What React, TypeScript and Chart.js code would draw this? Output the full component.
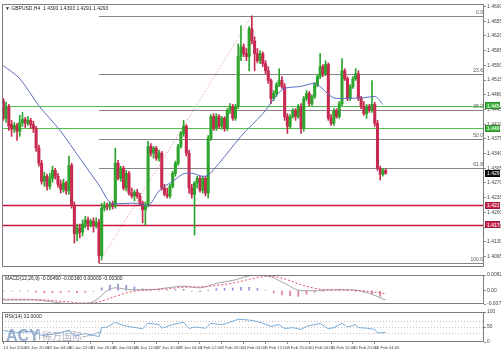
import React, { useEffect, useRef } from "react";
import { Chart, registerables } from "chart.js";
Chart.register(...registerables);

// ---------- DATA (GBPUSD, H4) ----------
const opens = [
  1.4466, 1.4424, 1.4452, 1.4409, 1.4398, 1.4407, 1.4393, 1.4414, 1.4421, 1.4412,
  1.4419, 1.4409, 1.4400, 1.4353, 1.4317, 1.4274, 1.4286, 1.4262, 1.4281, 1.4300,
  1.4286, 1.4267, 1.4255, 1.4270, 1.4251, 1.4312, 1.4217, 1.4149, 1.4163, 1.4153,
  1.4172, 1.4182, 1.4172, 1.4179, 1.4170, 1.4177, 1.4097, 1.4210, 1.4217, 1.4213,
  1.4220, 1.4215, 1.4317, 1.4281, 1.4305, 1.4258, 1.4293, 1.4246, 1.4239, 1.4248,
  1.4239, 1.4222, 1.4206, 1.4217, 1.4357, 1.4341, 1.4353, 1.4329, 1.4341, 1.4258,
  1.4243, 1.4239, 1.4262, 1.4293, 1.4317, 1.4357, 1.4388, 1.4405, 1.4341, 1.4258,
  1.4243, 1.4270, 1.4281, 1.4253, 1.4281, 1.4246, 1.4376, 1.4428, 1.4400, 1.4428,
  1.4405, 1.4424, 1.4400, 1.4443, 1.4452, 1.4424, 1.4452, 1.4571, 1.4594, 1.4578,
  1.4571, 1.4637, 1.4608, 1.4578, 1.4561, 1.4578, 1.4554, 1.4537, 1.4514, 1.4471,
  1.4483, 1.4504, 1.4514, 1.4499, 1.4428, 1.4405, 1.4428, 1.4443, 1.4428, 1.4452,
  1.4400, 1.4471, 1.4483, 1.4459, 1.4476, 1.4504, 1.4523, 1.4547, 1.4530, 1.4552,
  1.4424, 1.4412, 1.4443, 1.4428, 1.4459, 1.4537, 1.4518, 1.4471, 1.4499, 1.4518,
  1.4530, 1.4471, 1.4452, 1.4435, 1.4452, 1.4443, 1.4457, 1.4412, 1.4305, 1.4291,
  1.4300,
];
const highs = [
  1.4471, 1.4462, 1.4457, 1.4419, 1.4414, 1.4412, 1.4431, 1.4438, 1.4426, 1.4428,
  1.4424, 1.4417, 1.4405, 1.4360, 1.4324, 1.4296, 1.4291, 1.4293, 1.4310, 1.4305,
  1.4293, 1.4277, 1.4279, 1.4274, 1.4334, 1.4317, 1.4225, 1.4172, 1.4172, 1.4182,
  1.4191, 1.4189, 1.4184, 1.4187, 1.4187, 1.4184, 1.4222, 1.4225, 1.4222, 1.4225,
  1.4227, 1.4353, 1.4324, 1.4310, 1.4310, 1.4300, 1.4298, 1.4258, 1.4253, 1.4255,
  1.4246, 1.4227, 1.4225, 1.4369, 1.4364, 1.4357, 1.4357, 1.4348, 1.4345, 1.4267,
  1.4258, 1.4267, 1.4298, 1.4322, 1.4362, 1.4393, 1.4419, 1.4409, 1.4348, 1.4267,
  1.4274, 1.4286, 1.4286, 1.4286, 1.4286, 1.4383, 1.4433, 1.4435, 1.4435, 1.4433,
  1.4428, 1.4428, 1.4447, 1.4459, 1.4457, 1.4457, 1.4601, 1.4644, 1.4601, 1.4590,
  1.4642, 1.4668, 1.4618, 1.4590, 1.4585, 1.4582, 1.4561, 1.4547, 1.4518, 1.4490,
  1.4509, 1.4542, 1.4523, 1.4507, 1.4435, 1.4433, 1.4447, 1.4447, 1.4457, 1.4459,
  1.4476, 1.4490, 1.4488, 1.4480, 1.4509, 1.4528, 1.4578, 1.4552, 1.4561, 1.4556,
  1.4433, 1.4447, 1.4447, 1.4464, 1.4566, 1.4542, 1.4523, 1.4504, 1.4523, 1.4542,
  1.4537, 1.4476, 1.4464, 1.4457, 1.4457, 1.4514, 1.4462, 1.4419, 1.4310, 1.4305,
  1.4303,
];
const lows = [
  1.4419, 1.4414, 1.4395, 1.4381, 1.4390, 1.4371, 1.4381, 1.4405, 1.4402, 1.4407,
  1.4400, 1.4390, 1.4345, 1.4310, 1.4267, 1.4262, 1.4253, 1.4255, 1.4272, 1.4279,
  1.4260, 1.4246, 1.4248, 1.4243, 1.4243, 1.4210, 1.4127, 1.4132, 1.4139, 1.4144,
  1.4163, 1.4158, 1.4165, 1.4153, 1.4163, 1.4080, 1.4087, 1.4203, 1.4206, 1.4206,
  1.4208, 1.4210, 1.4277, 1.4274, 1.4253, 1.4251, 1.4241, 1.4234, 1.4227, 1.4234,
  1.4217, 1.4175, 1.4170, 1.4213, 1.4334, 1.4329, 1.4324, 1.4322, 1.4253, 1.4239,
  1.4234, 1.4234, 1.4258, 1.4286, 1.4312, 1.4353, 1.4381, 1.4334, 1.4246, 1.4234,
  1.4146, 1.4258, 1.4248, 1.4246, 1.4239, 1.4234, 1.4371, 1.4395, 1.4395, 1.4400,
  1.4398, 1.4393, 1.4395, 1.4435, 1.4419, 1.4419, 1.4447, 1.4561, 1.4571, 1.4561,
  1.4537, 1.4601, 1.4537, 1.4556, 1.4554, 1.4547, 1.4530, 1.4507, 1.4459, 1.4466,
  1.4476, 1.4499, 1.4495, 1.4419, 1.4388, 1.4400, 1.4424, 1.4419, 1.4424, 1.4388,
  1.4393, 1.4466, 1.4454, 1.4454, 1.4471, 1.4499, 1.4518, 1.4523, 1.4526, 1.4419,
  1.4407, 1.4407, 1.4424, 1.4424, 1.4454, 1.4514, 1.4466, 1.4466, 1.4495, 1.4514,
  1.4466, 1.4447, 1.4431, 1.4424, 1.4438, 1.4438, 1.4405, 1.4300, 1.4277, 1.4286,
  1.4291,
];
const closes = [
  1.4424, 1.4452, 1.4405, 1.4398, 1.4407, 1.4393, 1.4414, 1.4421, 1.4412, 1.4419,
  1.4409, 1.4400, 1.4353, 1.4317, 1.4274, 1.4286, 1.4262, 1.4281, 1.4300, 1.4286,
  1.4267, 1.4255, 1.4270, 1.4251, 1.4312, 1.4217, 1.4149, 1.4163, 1.4153, 1.4172,
  1.4182, 1.4172, 1.4179, 1.4170, 1.4177, 1.4097, 1.4210, 1.4217, 1.4213, 1.4220,
  1.4215, 1.4317, 1.4281, 1.4305, 1.4258, 1.4293, 1.4246, 1.4239, 1.4248, 1.4239,
  1.4222, 1.4206, 1.4217, 1.4357, 1.4341, 1.4353, 1.4329, 1.4341, 1.4258, 1.4243,
  1.4239, 1.4262, 1.4293, 1.4317, 1.4357, 1.4388, 1.4405, 1.4341, 1.4258, 1.4243,
  1.4270, 1.4281, 1.4253, 1.4281, 1.4246, 1.4376, 1.4428, 1.4400, 1.4428, 1.4405,
  1.4424, 1.4400, 1.4443, 1.4452, 1.4424, 1.4452, 1.4571, 1.4594, 1.4578, 1.4571,
  1.4637, 1.4608, 1.4578, 1.4561, 1.4578, 1.4554, 1.4537, 1.4514, 1.4471, 1.4483,
  1.4504, 1.4514, 1.4499, 1.4428, 1.4405, 1.4428, 1.4443, 1.4428, 1.4452, 1.4400,
  1.4471, 1.4483, 1.4459, 1.4476, 1.4504, 1.4523, 1.4547, 1.4530, 1.4552, 1.4424,
  1.4412, 1.4443, 1.4428, 1.4459, 1.4537, 1.4518, 1.4471, 1.4499, 1.4518, 1.4530,
  1.4471, 1.4452, 1.4435, 1.4452, 1.4443, 1.4457, 1.4412, 1.4305, 1.4291, 1.4300,
  1.4293,
];

// moving average
const maIndex = [0, 6, 13, 21, 28, 35, 40, 47, 53, 57, 62, 67, 69, 73, 75, 79, 87, 95, 103, 108, 114, 115, 122, 132, 136, 139];
const maValues = [1.4549, 1.4518, 1.4454, 1.4393, 1.4329, 1.4265, 1.422, 1.4222, 1.4217, 1.4251, 1.4274, 1.4293, 1.4293, 1.4286, 1.4289, 1.4317, 1.4381, 1.4435, 1.4495, 1.4499, 1.4507, 1.4504, 1.4471, 1.4473, 1.4476, 1.4457];

// price axis
const priceTicks = [1.469, 1.4655, 1.462, 1.4585, 1.455, 1.4515, 1.448, 1.4445, 1.441, 1.4375, 1.434, 1.4305, 1.427, 1.4235, 1.42, 1.4165, 1.413, 1.4095];
const priceMin = 1.407;
const priceMax = 1.4696;

// horizontal lines
const resistanceLevels = [1.4454, 1.44];
const supportLevels = [1.4217, 1.417];
const currentPrice = 1.4293;

// fibonacci
const fibLowIndex = 35;
const fibHighIndex = 91;
const fibLow = 1.408;
const fibHigh = 1.4668;
const fibLevels = [0, 23.6, 38.2, 50, 61.8, 100];
const fibLabels = ["0.0", "23.6", "38.2", "50.0", "61.8", "100.0"];

// x axis
const xTickIndex = [0, 8, 16, 24, 32, 40, 48, 56, 64, 72, 80, 88, 96, 104, 112, 120, 128, 136];
const xTickLabels = [
  "14 Jan 2016", "15 Jan 20:00", "19 Jan 04:00", "20 Jan 12:00", "21 Jan 20:00", "25 Jan 04:00",
  "26 Jan 12:00", "27 Jan 20:00", "29 Jan 04:00", "1 Feb 12:00", "2 Feb 20:00", "4 Feb 04:00",
  "5 Feb 12:00", "8 Feb 20:00", "10 Feb 04:00", "11 Feb 12:00", "12 Feb 20:00", "16 Feb 04:00",
];
const xMin = -0.5;
const xMax = 176;

// MACD
const macdIndex = [0, 11, 23, 29, 34, 38, 41, 47, 54, 60, 66, 72, 78, 84, 90, 94, 98, 103, 109, 115, 121, 127, 133, 140];
const macdMain = [-0.0049, -0.0049, -0.0068, -0.0073, -0.0049, 0, 0.0015, 0.0005, 0.0005, 0.0015, 0.0024, 0.0015, 0.0039, 0.0054, 0.0078, 0.0083, 0.0073, 0.0039, 0, 0, 0.0005, 0.0005, -0.001, -0.0049];
const macdSignal = [-0.0045, -0.0046, -0.0058, -0.0065, -0.0062, -0.0045, -0.003, -0.0005, 0.0005, 0.001, 0.0018, 0.002, 0.0028, 0.004, 0.006, 0.0072, 0.0076, 0.0062, 0.0032, 0.001, 0.0004, 0.0003, -0.0003, -0.0016];
const histIndex = [0, 3, 6, 9, 12, 15, 18, 21, 24, 27, 30, 33, 36, 39, 42, 45, 48, 51, 54, 57, 60, 63, 66, 69, 72, 75, 78, 81, 84, 87, 90, 93, 96, 99, 102, 105, 108, 111, 114, 117, 120, 123, 126, 129, 132, 135, 138];
const histValues = [-0.0004, -0.0003, -0.0002, -0.0003, -0.0008, -0.0012, -0.001, -0.0009, -0.0006, -0.001, -0.0008, -0.0003, 0.0015, 0.003, 0.0035, 0.0028, 0.002, 0.001, 0.0006, 0.0004, 0.0004, 0.0006, 0.0008, -0.0003, -0.0005, 0.0002, 0.0011, 0.0012, 0.0014, 0.0018, 0.0018, 0.0012, 0.0002, -0.0012, -0.0022, -0.0028, -0.003, -0.0018, -0.0008, -0.0003, 0.0001, 0.0002, 0.0002, -0.0003, -0.0008, -0.0018, -0.003];
const macdTicks = [-0.00702, 0, 0.00828];
const macdTickLabels = ["-0.00702", "0.00", "0.00828"];

// RSI
const rsiIndex = [0, 5, 11, 14, 20, 24, 26, 30, 35, 36, 38, 41, 44, 47, 51, 53, 57, 58, 62, 66, 68, 70, 74, 76, 80, 82, 86, 91, 94, 98, 101, 103, 106, 109, 111, 116, 119, 121, 124, 126, 129, 130, 133, 136, 137, 140];
const rsiValues = [38, 32, 35, 22, 28, 40, 20, 28, 18, 48, 50, 66, 55, 50, 44, 63, 58, 46, 58, 66, 45, 50, 46, 62, 58, 63, 76, 72, 66, 52, 58, 45, 48, 42, 52, 62, 44, 48, 62, 50, 58, 48, 46, 42, 30, 32];
const rsiTicks = [0, 30, 50, 70, 100];
const rsiLevels = [30, 50, 70];

// ---------- STYLE ----------
const UP = "#2da52d";
const DOWN = "#c72a50";
const FONT = "Liberation Sans, DejaVu Sans, sans-serif";
const FRAME = "#7d7d7d";
const AXIS_W = 17;

const candleColor = (ctx: any) => (closes[ctx.dataIndex] >= opens[ctx.dataIndex] ? UP : DOWN);

function drawFrame(chart: any) {
  const { ctx, chartArea: a } = chart;
  ctx.save();
  ctx.strokeStyle = FRAME;
  ctx.lineWidth = 1;
  ctx.strokeRect(Math.round(a.left) + 0.5, Math.round(a.top) + 0.5, Math.round(a.right - a.left) - 1, Math.round(a.bottom - a.top) - 1);
  ctx.restore();
}

function hLine(ctx: any, x1: number, x2: number, y: number, color: string, width: number, dash: number[] = []) {
  ctx.save();
  ctx.strokeStyle = color;
  ctx.lineWidth = width;
  ctx.setLineDash(dash);
  ctx.beginPath();
  const yy = Math.round(y) + (width % 2 ? 0.5 : 0);
  ctx.moveTo(x1, yy);
  ctx.lineTo(x2, yy);
  ctx.stroke();
  ctx.restore();
}

function priceTag(ctx: any, a: any, y: number, text: string, fill: string, border: string) {
  ctx.save();
  const x = a.right + 1;
  const h = 7;
  ctx.fillStyle = fill;
  ctx.fillRect(x, Math.round(y - h / 2), 501 - x - 1, h);
  ctx.strokeStyle = border;
  ctx.lineWidth = 1;
  ctx.strokeRect(x + 0.5, Math.round(y - h / 2) + 0.5, 501 - x - 2, h - 1);
  ctx.fillStyle = "#ffffff";
  ctx.font = `5px ${FONT}`;
  ctx.textAlign = "left";
  ctx.textBaseline = "middle";
  ctx.fillText(text, x + 2, Math.round(y) + 0.5);
  ctx.restore();
}

const mainDecor = {
  id: "mainDecor",
  beforeDatasetsDraw(chart: any) {
    const { ctx, chartArea: a, scales } = chart;
    const x = scales.x;
    const y = scales.y;
    // fibonacci levels
    const fx = x.getPixelForValue(fibLowIndex);
    fibLevels.forEach((lv, k) => {
      const price = fibHigh - ((fibHigh - fibLow) * lv) / 100;
      const py = y.getPixelForValue(price);
      hLine(ctx, fx, a.right, py, "#858585", 1);
      ctx.save();
      ctx.fillStyle = "#555";
      ctx.font = `5px ${FONT}`;
      ctx.textAlign = "right";
      ctx.textBaseline = "bottom";
      ctx.fillText(fibLabels[k], a.right - 1, Math.round(py) - 0.5);
      ctx.restore();
    });
    // fib trend line (dotted)
    ctx.save();
    ctx.strokeStyle = "rgba(220,110,110,0.85)";
    ctx.lineWidth = 1;
    ctx.setLineDash([1, 2]);
    ctx.beginPath();
    ctx.moveTo(x.getPixelForValue(fibLowIndex), y.getPixelForValue(fibLow));
    ctx.lineTo(x.getPixelForValue(fibHighIndex), y.getPixelForValue(fibHigh));
    ctx.stroke();
    ctx.restore();
    // resistance (green) and support (red) lines
    resistanceLevels.forEach((p) => hLine(ctx, a.left, a.right, y.getPixelForValue(p), "#4cc24c", 1));
    supportLevels.forEach((p) => hLine(ctx, a.left, a.right, y.getPixelForValue(p), "#c8163f", 1.5));
  },
  afterDraw(chart: any) {
    const { ctx, chartArea: a, scales } = chart;
    const y = scales.y;
    drawFrame(chart);
    resistanceLevels.forEach((p) => priceTag(ctx, a, y.getPixelForValue(p), p.toFixed(4), "#3fb43f", "#2a8a2a"));
    supportLevels.forEach((p) => priceTag(ctx, a, y.getPixelForValue(p), p.toFixed(4), "#c8284f", "#9a1a3a"));
    priceTag(ctx, a, y.getPixelForValue(currentPrice), currentPrice.toFixed(4), "#111111", "#000000");
    ctx.save();
    ctx.fillStyle = "#222";
    ctx.font = `5px ${FONT}`;
    ctx.textAlign = "left";
    ctx.textBaseline = "middle";
    const last = closes.length - 1;
    ctx.fillText(
      `▼ GBPUSD,H4  ${opens[last].toFixed(4)} ${highs[last].toFixed(4)} ${lows[last].toFixed(4)} ${closes[last].toFixed(4)}`,
      a.left + 3,
      a.top + 5
    );
    ctx.restore();
  },
};

const macdDecor = {
  id: "macdDecor",
  afterDraw(chart: any) {
    const { ctx, chartArea: a } = chart;
    drawFrame(chart);
    ctx.save();
    ctx.fillStyle = "#222";
    ctx.font = `5px ${FONT}`;
    ctx.textBaseline = "middle";
    const n = macdMain.length - 1;
    ctx.fillText(
      `MACD(12,26,9) ${macdMain[n].toFixed(5)} ${macdSignal[n].toFixed(5)} 0.00000 ${histValues[histValues.length - 1].toFixed(5)}`,
      a.left + 3,
      a.top + 4
    );
    ctx.restore();
  },
};

const rsiDecor = {
  id: "rsiDecor",
  beforeDatasetsDraw(chart: any) {
    const { ctx, chartArea: a, scales } = chart;
    rsiLevels.forEach((lv) => hLine(ctx, a.left, a.right, scales.y.getPixelForValue(lv), "#c4c4c4", 1, [1, 2]));
  },
  afterDatasetsDraw(chart: any) {
    const { ctx, chartArea: a } = chart;
    ctx.save();
    // ACY watermark
    ctx.globalAlpha = 0.8;
    ctx.fillStyle = "#7f9bbf";
    ctx.font = `bold 16px ${FONT}`;
    ctx.textBaseline = "alphabetic";
    ctx.fillText("ACY", a.left + 4, a.bottom - 1);
    ctx.fillStyle = "#9aa3b2";
    ctx.fillRect(a.left + 37, a.bottom - 12, 1, 10);
    ctx.font = `10px Noto Sans CJK SC, sans-serif`;
    ctx.fillText("稀万国际", a.left + 40, a.bottom - 2);
    ctx.strokeStyle = "#9aa3b2";
    ctx.lineWidth = 1;
    ctx.beginPath();
    ctx.moveTo(a.left + 80, a.bottom - 5);
    ctx.quadraticCurveTo(a.left + 90, a.bottom - 6, a.left + 100, a.bottom - 11);
    ctx.stroke();
    ctx.restore();
  },
  afterDraw(chart: any) {
    const { ctx, chartArea: a } = chart;
    drawFrame(chart);
    ctx.save();
    ctx.fillStyle = "#222";
    ctx.font = `5px ${FONT}`;
    ctx.textBaseline = "middle";
    ctx.fillText(`RSI(14) ${rsiValues[rsiValues.length - 1].toFixed(4)}`, a.left + 3, a.top + 5);
    ctx.restore();
  },
};

const axisW = (s: any) => {
  s.width = AXIS_W;
};

const yTickStyle = { font: { size: 5, family: FONT }, color: "#444", padding: 1 };
const yGrid = { drawOnChartArea: false, tickLength: 2, color: "#8a8a8a" };

export default function App() {
  const r1 = useRef<HTMLCanvasElement>(null);
  const r2 = useRef<HTMLCanvasElement>(null);
  const r3 = useRef<HTMLCanvasElement>(null);

  useEffect(() => {
    const wickData = opens.map((_, i) => ({ x: i, y: [lows[i], highs[i]] }));
    const bodyData = opens.map((o, i) => ({ x: i, y: [o, closes[i]] }));

    const main = new Chart(r1.current as HTMLCanvasElement, {
      type: "bar",
      data: {
        datasets: [
          {
            type: "line",
            data: maIndex.map((x, k) => ({ x, y: maValues[k] })),
            borderColor: "#5a6cc0",
            borderWidth: 1,
            pointRadius: 0,
            cubicInterpolationMode: "monotone",
            order: 0,
          } as any,
          { data: wickData, backgroundColor: candleColor, barThickness: 1, grouped: false, order: 2 } as any,
          { data: bodyData, backgroundColor: candleColor, barThickness: 2.4, grouped: false, minBarLength: 1, order: 1 } as any,
        ],
      },
      options: {
        animation: false,
        responsive: false,
        devicePixelRatio: 1,
        layout: { padding: { left: 2, top: 4, bottom: 2, right: 0 } },
        plugins: { legend: { display: false }, tooltip: { enabled: false } },
        scales: {
          x: { type: "linear", min: xMin, max: xMax, offset: false, display: false },
          y: {
            position: "right",
            min: priceMin,
            max: priceMax,
            afterFit: axisW,
            afterBuildTicks: (s: any) => {
              s.ticks = priceTicks.map((v) => ({ value: v }));
            },
            ticks: { ...yTickStyle, callback: (v: any) => Number(v).toFixed(4) },
            grid: yGrid,
            border: { display: false },
          },
        },
      } as any,
      plugins: [mainDecor],
    });

    const macd = new Chart(r2.current as HTMLCanvasElement, {
      type: "bar",
      data: {
        datasets: [
          {
            type: "line",
            data: macdIndex.map((x, k) => ({ x, y: macdSignal[k] })),
            borderColor: "#e0506a",
            borderWidth: 1,
            borderDash: [2, 2],
            pointRadius: 0,
            cubicInterpolationMode: "monotone",
            order: 0,
          } as any,
          {
            type: "line",
            data: macdIndex.map((x, k) => ({ x, y: macdMain[k] })),
            borderColor: "#a3a3a3",
            borderWidth: 1,
            pointRadius: 0,
            cubicInterpolationMode: "monotone",
            order: 1,
          } as any,
          {
            data: histIndex.map((x, k) => ({ x, y: histValues[k] })),
            backgroundColor: (c: any) => (histValues[c.dataIndex] >= 0 ? "#8293d6" : "#e07c8e"),
            barThickness: 1,
            grouped: false,
            order: 2,
          } as any,
        ],
      },
      options: {
        animation: false,
        responsive: false,
        devicePixelRatio: 1,
        layout: { padding: { left: 2, top: 2, bottom: 1, right: 0 } },
        plugins: { legend: { display: false }, tooltip: { enabled: false } },
        scales: {
          x: { type: "linear", min: xMin, max: xMax, offset: false, display: false },
          y: {
            position: "right",
            min: macdTicks[0],
            max: macdTicks[2],
            afterFit: axisW,
            afterBuildTicks: (s: any) => {
              s.ticks = macdTicks.map((v) => ({ value: v }));
            },
            ticks: { ...yTickStyle, callback: (_v: any, i: number) => macdTickLabels[i] },
            grid: yGrid,
            border: { display: false },
          },
        },
      } as any,
      plugins: [macdDecor],
    });

    const rsi = new Chart(r3.current as HTMLCanvasElement, {
      type: "line",
      data: {
        datasets: [
          {
            data: rsiIndex.map((x, k) => ({ x, y: rsiValues[k] })),
            borderColor: "#78aedb",
            borderWidth: 1,
            pointRadius: 0,
            tension: 0,
          },
        ],
      },
      options: {
        animation: false,
        responsive: false,
        devicePixelRatio: 1,
        layout: { padding: { left: 2, top: 2, bottom: 0, right: 0 } },
        plugins: { legend: { display: false }, tooltip: { enabled: false } },
        scales: {
          x: {
            type: "linear",
            min: xMin,
            max: xMax,
            offset: false,
            afterFit: (s: any) => {
              s.height = 9;
            },
            afterBuildTicks: (s: any) => {
              s.ticks = xTickIndex.map((v) => ({ value: v }));
            },
            ticks: {
              font: { size: 4.2, family: FONT },
              color: "#444",
              padding: 1,
              align: "start",
              maxRotation: 0,
              autoSkip: false,
              callback: (_v: any, i: number) => xTickLabels[i],
            },
            grid: { drawOnChartArea: false, tickLength: 2, color: "#8a8a8a" },
            border: { display: false },
          },
          y: {
            position: "right",
            min: 0,
            max: 100,
            afterFit: axisW,
            afterBuildTicks: (s: any) => {
              s.ticks = rsiTicks.map((v) => ({ value: v }));
            },
            ticks: { ...yTickStyle, callback: (v: any) => String(v) },
            grid: yGrid,
            border: { display: false },
          },
        },
      } as any,
      plugins: [rsiDecor],
    });

    return () => {
      main.destroy();
      macd.destroy();
      rsi.destroy();
    };
  }, []);

  return (
    <div style={{ position: "fixed", left: 0, top: 0, width: 501, height: 351, background: "#ffffff" }}>
      <canvas ref={r1} width={501} height={271} style={{ position: "absolute", left: 0, top: 0 }} />
      <canvas ref={r2} width={501} height={37} style={{ position: "absolute", left: 0, top: 271 }} />
      <canvas ref={r3} width={501} height={43} style={{ position: "absolute", left: 0, top: 308 }} />
    </div>
  );
}
